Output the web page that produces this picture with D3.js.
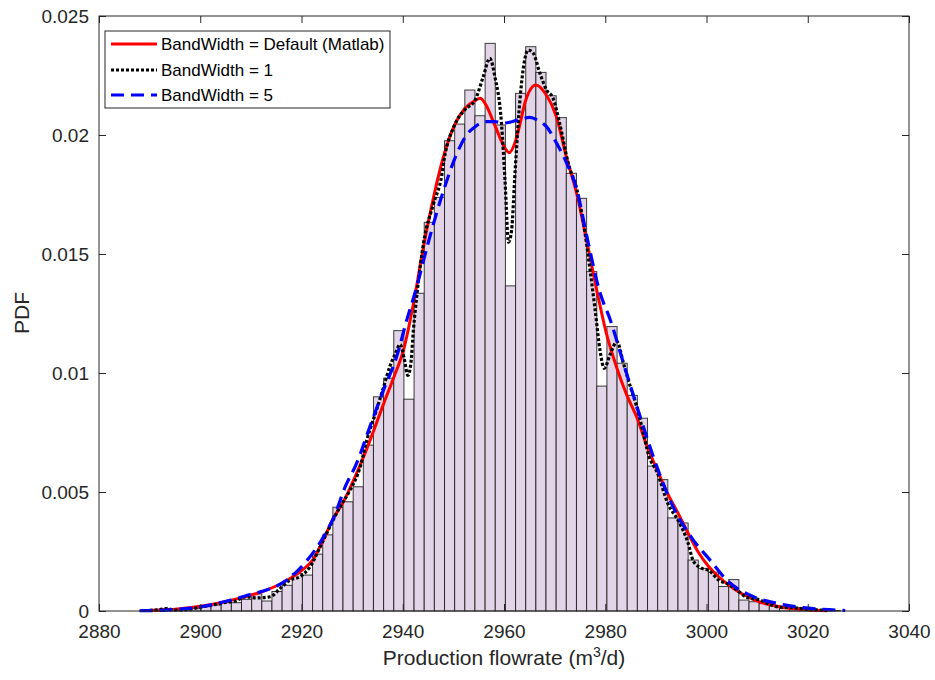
<!DOCTYPE html>
<html><head><meta charset="utf-8">
<script src="https://cdn.jsdelivr.net/npm/d3@7"></script>
<style>body{margin:0;background:#fff;} svg{display:block;font-family:"Liberation Sans",Arial,sans-serif;}</style>
</head><body><svg id="c" width="935" height="680"></svg>
<script>
// ---------- data ----------
const xTicks = [2880, 2900, 2920, 2940, 2960, 2980, 3000, 3020, 3040];
const yTicks = [0, 0.005, 0.01, 0.015, 0.02, 0.025];
const yTickLabels = ["0", "0.005", "0.01", "0.015", "0.02", "0.025"];
const binStart = 2888.1;
const binWidth = 2.005;
const binHeights = [
  0.00003, 0.00004, 0.00009, 0.00004, 0.00006, 0.00010, 0.00018, 0.00025, 0.00035, 0.00035,
  0.00049, 0.00072, 0.00042, 0.00082, 0.00108, 0.00158, 0.00151, 0.00239, 0.00320, 0.00436,
  0.00459, 0.00522, 0.00697, 0.00900, 0.00978, 0.01178, 0.00890, 0.01335, 0.01633, 0.01738,
  0.01976, 0.02046, 0.02189, 0.02081, 0.02385, 0.02042, 0.01366, 0.02175, 0.02371, 0.02263,
  0.02165, 0.02073, 0.01839, 0.01734, 0.01426, 0.00945, 0.01195, 0.01041, 0.00906, 0.00810,
  0.00609, 0.00552, 0.00391, 0.00370, 0.00214, 0.00179, 0.00163, 0.00103, 0.00132, 0.00046,
  0.00039, 0.00032, 0.00021, 0.00013, 0.00015, 0.00007, 0.00005, 0.00003, 0.00002
];
const kdeDefault = [
  [2890,0.00002],[2893,0.00005],[2896,0.0001],[2900,0.0002],[2904,0.00035],[2908,0.00055],
  [2912,0.0008],[2915,0.00105],[2918,0.0014],[2920,0.0017],[2922.2,0.00214],[2924.1,0.0029],
  [2926.3,0.0039],[2928.3,0.0046],[2930.3,0.0055],[2932.3,0.0065],[2934.3,0.0076],[2936.2,0.0087],
  [2938.2,0.0098],[2940.2,0.0110],[2942.1,0.0129],[2944.1,0.0153],[2946.2,0.0175],[2948.2,0.0192],
  [2950.2,0.0204],[2952.2,0.0211],[2954.3,0.02145],[2955.3,0.02154],[2956.2,0.02135],[2958.2,0.0204],
  [2960.2,0.01945],[2961,0.01926],[2962.2,0.0197],[2963.2,0.0205],[2964.2,0.0214],[2966.3,0.0221],
  [2968.3,0.0217],[2970.3,0.0208],[2972.3,0.0191],[2974.4,0.0175],[2976.3,0.0156],[2978.3,0.0135],
  [2980.3,0.0116],[2982.3,0.0102],[2984.2,0.0091],[2986.3,0.0081],[2988.3,0.0069],[2990.3,0.0059],
  [2992.4,0.0049],[2994.4,0.0041],[2996.3,0.0033],[2998.3,0.0025],[3000.3,0.0019],[3002.4,0.00144],
  [3004.4,0.00109],[3006.4,0.0008],[3008.4,0.00058],[3010.3,0.0004],[3012.4,0.00027],[3014.4,0.00018],
  [3016.5,0.00011],[3018.5,0.00007],[3020.5,0.00004],[3023.7,0.00001]
];
const kdeBw1 = [
  [2890,0.00003],[2892,0.00006],[2893.3,0.0001],[2895,0.00004],[2897,0.00006],[2899,0.00012],
  [2901,0.0002],[2903,0.00028],[2905,0.00036],[2907,0.00042],[2909,0.0006],[2911,0.00055],
  [2913.8,0.0006],[2915.8,0.00095],[2917.7,0.0013],[2919.7,0.00144],[2921.7,0.00186],[2923.7,0.0027],
  [2925.6,0.00354],[2927.6,0.00438],[2929.6,0.00508],[2931.6,0.00606],[2932.9,0.00718],[2934.9,0.0085],
  [2936.2,0.0094],[2937.5,0.0103],[2938.5,0.0108],[2939.5,0.0112],[2940.3,0.0106],[2941.0,0.0099],
  [2941.6,0.0104],[2942.1,0.0118],[2942.8,0.0133],[2944.1,0.01545],[2946.1,0.01713],[2947.7,0.0183],
  [2948.2,0.0190],[2950.2,0.0204],[2952.2,0.02105],[2954.3,0.02147],[2955.9,0.02245],[2957.2,0.02322],
  [2958.2,0.02245],[2959.5,0.0205],[2960.2,0.0181],[2960.9,0.0155],[2961.5,0.0160],[2962.2,0.0185],
  [2963.2,0.0216],[2964.8,0.02357],[2965.8,0.02343],[2967.1,0.02259],[2968.4,0.02189],[2969.7,0.02154],
  [2971.0,0.02049],[2972.7,0.0188],[2974.4,0.0177],[2975.7,0.0163],[2977.0,0.01433],[2978.0,0.01265],
  [2979.0,0.0109],[2979.8,0.0102],[2981.0,0.0108],[2982.3,0.01132],[2983.6,0.0104],[2985.0,0.0094],
  [2986.2,0.0086],[2987.5,0.0075],[2988.5,0.0066],[2990.3,0.0058],[2992.4,0.0045],[2994.4,0.0038],
  [2996.3,0.0029],[2997.4,0.0021],[2999,0.0018],[3000.5,0.0017],[3002.4,0.0013],[3004.4,0.00112],
  [3006,0.00088],[3007.7,0.0006],[3010.6,0.00046],[3012.5,0.00028],[3014.5,0.00016],[3017.1,0.00014],
  [3019.8,0.00007],[3022.4,0.00004],[3024,0.00002]
];
const kdeBw5 = [
  [2888,0.00001],[2893.4,0.00004],[2897,0.0001],[2900,0.00018],[2903,0.0003],[2906.5,0.00049],
  [2910,0.0007],[2913.1,0.00088],[2917.1,0.0013],[2921,0.0021],[2924.3,0.0031],[2926.5,0.0040],
  [2928.6,0.0052],[2930.9,0.00621],[2933.5,0.00774],[2936.2,0.00929],[2938.8,0.01069],[2940.8,0.01223],
  [2942.6,0.0135],[2945,0.01545],[2948.3,0.01783],[2950.3,0.01902],[2952.6,0.0200],[2954.3,0.02035],
  [2956.6,0.02056],[2958.2,0.02056],[2959.9,0.0205],[2963.2,0.02066],[2965.1,0.02074],[2966.8,0.0206],
  [2968.4,0.02035],[2970.4,0.01965],[2972.4,0.01881],[2974.4,0.01769],[2976.3,0.0158],[2979,0.01335],
  [2981,0.01223],[2983.6,0.01041],[2986.9,0.00816],[2989.5,0.00648],[2993.4,0.00438],[2997.4,0.00298],
  [3000.7,0.00214],[3004,0.0013],[3009.3,0.0006],[3013.9,0.00032],[3019.1,0.00014],[3025.7,0.00004],
  [3027.4,0.00002]
];
const legendLabels = ["BandWidth = Default (Matlab)", "BandWidth = 1", "BandWidth = 5"];

// ---------- drawing ----------
const svg = d3.select("#c");
const L = 99, R = 909, T = 16, B = 611;
const x = d3.scaleLinear().domain([2880, 3040]).range([L, R]);
const y = d3.scaleLinear().domain([0, 0.025]).range([B, T]);
const axisCol = "#262626";

svg.append("rect").attr("x", L).attr("y", T).attr("width", R - L).attr("height", B - T).attr("fill", "#fff");

// histogram
const bins = binHeights.map((h, i) => ({x0: binStart + i * binWidth, x1: binStart + (i + 1) * binWidth, h}));
svg.append("g").selectAll("rect").data(bins).join("rect")
  .attr("x", d => x(d.x0)).attr("width", d => x(d.x1) - x(d.x0))
  .attr("y", d => y(d.h)).attr("height", d => y(0) - y(d.h))
  .attr("fill", "#e1d5e7").attr("stroke", "#1a1a1a").attr("stroke-width", 1).attr("stroke-opacity", 0.85);

// curves
const line = d3.line().x(d => x(d[0])).y(d => y(d[1])).curve(d3.curveMonotoneX);
const styles = [
  {data: kdeDefault, color: "#ff0000", width: 3, dash: null},
  {data: kdeBw1, color: "#000000", width: 3.2, dash: "3,2"},
  {data: kdeBw5, color: "#0000ff", width: 3.2, dash: "13,7"}
];
styles.forEach(s => {
  svg.append("path").datum(s.data).attr("d", line).attr("fill", "none")
    .attr("stroke", s.color).attr("stroke-width", s.width)
    .attr("stroke-dasharray", s.dash);
});

// axes
const xAxis = d3.axisBottom(x).tickValues(xTicks).tickFormat(d3.format("d")).tickSizeInner(-7).tickSizeOuter(0).tickPadding(14);
const gx = svg.append("g").attr("transform", `translate(0,${B})`).call(xAxis);
const yAxis = d3.axisLeft(y).tickValues(yTicks).tickFormat((d, i) => yTickLabels[i]).tickSizeInner(-7).tickSizeOuter(0).tickPadding(10);
const gy = svg.append("g").attr("transform", `translate(${L},0)`).call(yAxis);
const xTop = d3.axisTop(x).tickValues(xTicks).tickFormat("").tickSizeInner(-7).tickSizeOuter(0);
const gxt = svg.append("g").attr("transform", `translate(0,${T})`).call(xTop);
const yRight = d3.axisRight(y).tickValues(yTicks).tickFormat("").tickSizeInner(-7).tickSizeOuter(0);
const gyr = svg.append("g").attr("transform", `translate(${R},0)`).call(yRight);
[gx, gy, gxt, gyr].forEach(g => {
  g.select(".domain").remove();
  g.selectAll(".tick line").attr("stroke", axisCol);
  g.selectAll("text").attr("fill", axisCol).style("font-size", "19px").style("font-family", '"Liberation Sans", Arial, sans-serif');
});
svg.append("rect").attr("x", L).attr("y", T).attr("width", R - L).attr("height", B - T)
  .attr("fill", "none").attr("stroke", axisCol).attr("stroke-width", 1);

// axis labels
svg.append("text").attr("transform", "translate(22,313) rotate(-90)").attr("text-anchor", "middle")
  .attr("dy", "0.35em").attr("fill", axisCol).style("font-size", "21px").text("PDF");
const xl = svg.append("text").attr("x", 504).attr("y", 665).attr("text-anchor", "middle")
  .attr("fill", axisCol).style("font-size", "21px");
xl.append("tspan").text("Production flowrate (m");
xl.append("tspan").attr("dy", -8).style("font-size", "14px").text("3");
xl.append("tspan").attr("dy", 8).text("/d)");

// legend
const lg = svg.append("g");
lg.append("rect").attr("x", 105).attr("y", 31).attr("width", 285).attr("height", 77)
  .attr("fill", "#fff").attr("stroke", axisCol).attr("stroke-width", 1);
const rowsY = [44, 70, 95];
styles.forEach((s, i) => {
  lg.append("line").attr("x1", 111).attr("x2", 157).attr("y1", rowsY[i]).attr("y2", rowsY[i])
    .attr("stroke", s.color).attr("stroke-width", s.width).attr("stroke-dasharray", s.dash);
  lg.append("text").attr("x", 161).attr("y", rowsY[i]).attr("dy", "0.35em")
    .attr("fill", "#000").style("font-size", "17px").text(legendLabels[i]);
});
</script></body></html>
